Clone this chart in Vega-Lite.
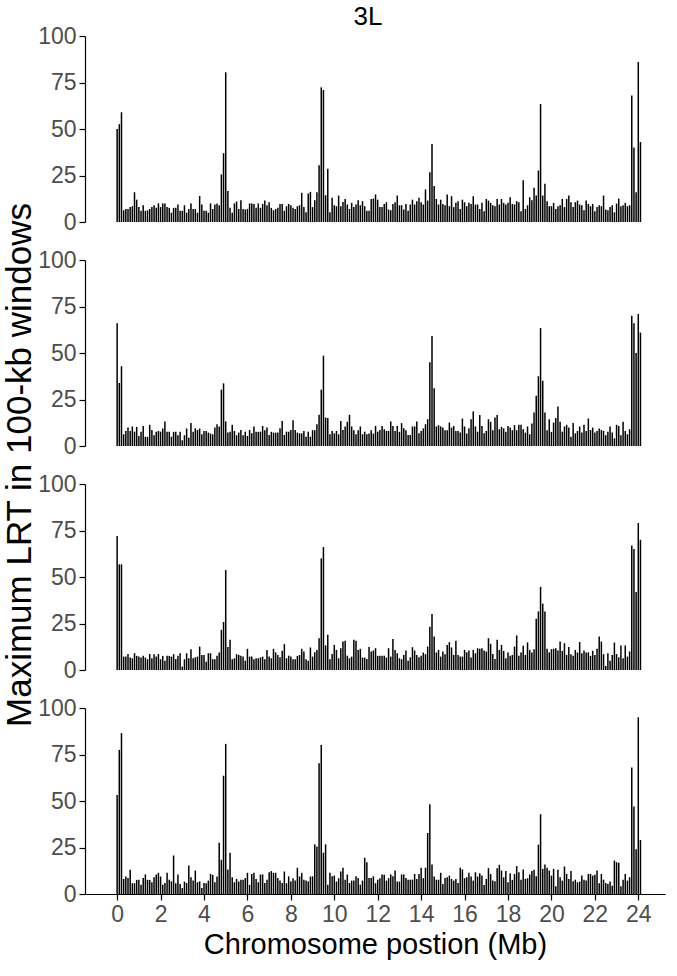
{"$schema":"https://vega.github.io/schema/vega-lite/v6.json","padding":{"left":2,"top":4,"right":2,"bottom":2},"background":"white","title":{"text":"3L","fontSize":26,"font":"Liberation Sans","fontWeight":"normal","color":"black","anchor":"middle","offset":-5,"dx":34},
"data":{"values":[
{"p":1,"x":0.0,"y":50},{"p":1,"x":0.1,"y":52.6},{"p":1,"x":0.2,"y":59},{"p":1,"x":0.3,"y":6.3},{"p":1,"x":0.4,"y":7},{"p":1,"x":0.5,"y":7},{"p":1,"x":0.6,"y":8},{"p":1,"x":0.7,"y":8.5},{"p":1,"x":0.8,"y":16},{"p":1,"x":0.9,"y":12},
{"p":1,"x":1.0,"y":8},{"p":1,"x":1.1,"y":6},{"p":1,"x":1.2,"y":9},{"p":1,"x":1.3,"y":6},{"p":1,"x":1.4,"y":6.3},{"p":1,"x":1.5,"y":7},{"p":1,"x":1.6,"y":8},{"p":1,"x":1.7,"y":9},{"p":1,"x":1.8,"y":7.6},{"p":1,"x":1.9,"y":10},
{"p":1,"x":2.0,"y":8},{"p":1,"x":2.1,"y":10},{"p":1,"x":2.2,"y":10},{"p":1,"x":2.3,"y":8},{"p":1,"x":2.4,"y":7.6},{"p":1,"x":2.5,"y":5},{"p":1,"x":2.6,"y":7.6},{"p":1,"x":2.7,"y":7.6},{"p":1,"x":2.8,"y":9.4},{"p":1,"x":2.9,"y":6},
{"p":1,"x":3.0,"y":6},{"p":1,"x":3.1,"y":9},{"p":1,"x":3.2,"y":5},{"p":1,"x":3.3,"y":7},{"p":1,"x":3.4,"y":10},{"p":1,"x":3.5,"y":7},{"p":1,"x":3.6,"y":7},{"p":1,"x":3.7,"y":5},{"p":1,"x":3.8,"y":14},{"p":1,"x":3.9,"y":9.4},
{"p":1,"x":4.0,"y":6},{"p":1,"x":4.1,"y":6},{"p":1,"x":4.2,"y":5},{"p":1,"x":4.3,"y":10},{"p":1,"x":4.4,"y":7},{"p":1,"x":4.5,"y":9.4},{"p":1,"x":4.6,"y":10},{"p":1,"x":4.7,"y":9},{"p":1,"x":4.8,"y":25.6},{"p":1,"x":4.9,"y":37},
{"p":1,"x":5.0,"y":80.5},{"p":1,"x":5.1,"y":16.6},{"p":1,"x":5.2,"y":7.6},{"p":1,"x":5.3,"y":5},{"p":1,"x":5.4,"y":10},{"p":1,"x":5.5,"y":11},{"p":1,"x":5.6,"y":7},{"p":1,"x":5.7,"y":11.7},{"p":1,"x":5.8,"y":7},{"p":1,"x":5.9,"y":6.7},
{"p":1,"x":6.0,"y":7},{"p":1,"x":6.1,"y":10},{"p":1,"x":6.2,"y":10},{"p":1,"x":6.3,"y":9.7},{"p":1,"x":6.4,"y":7.6},{"p":1,"x":6.5,"y":10},{"p":1,"x":6.6,"y":7.6},{"p":1,"x":6.7,"y":9.7},{"p":1,"x":6.8,"y":11.5},{"p":1,"x":6.9,"y":9},
{"p":1,"x":7.0,"y":10.6},{"p":1,"x":7.1,"y":7.6},{"p":1,"x":7.2,"y":6.3},{"p":1,"x":7.3,"y":7},{"p":1,"x":7.4,"y":7.6},{"p":1,"x":7.5,"y":9.7},{"p":1,"x":7.6,"y":9.7},{"p":1,"x":7.7,"y":6},{"p":1,"x":7.8,"y":8.5},{"p":1,"x":7.9,"y":9.7},
{"p":1,"x":8.0,"y":9},{"p":1,"x":8.1,"y":7.6},{"p":1,"x":8.2,"y":7},{"p":1,"x":8.3,"y":8.5},{"p":1,"x":8.4,"y":9},{"p":1,"x":8.5,"y":15.7},{"p":1,"x":8.6,"y":8},{"p":1,"x":8.7,"y":5.2},{"p":1,"x":8.8,"y":15.3},{"p":1,"x":8.9,"y":16.2},
{"p":1,"x":9.0,"y":8},{"p":1,"x":9.1,"y":11.7},{"p":1,"x":9.2,"y":16},{"p":1,"x":9.3,"y":30.5},{"p":1,"x":9.4,"y":72.4},{"p":1,"x":9.5,"y":71},{"p":1,"x":9.6,"y":14.4},{"p":1,"x":9.7,"y":28.6},{"p":1,"x":9.8,"y":5.2},{"p":1,"x":9.9,"y":13},
{"p":1,"x":10.0,"y":9},{"p":1,"x":10.1,"y":8.5},{"p":1,"x":10.2,"y":14.2},{"p":1,"x":10.3,"y":8.5},{"p":1,"x":10.4,"y":10.8},{"p":1,"x":10.5,"y":12.4},{"p":1,"x":10.6,"y":9.4},{"p":1,"x":10.7,"y":7},{"p":1,"x":10.8,"y":10.3},{"p":1,"x":10.9,"y":8},
{"p":1,"x":11.0,"y":9.4},{"p":1,"x":11.1,"y":11.7},{"p":1,"x":11.2,"y":9},{"p":1,"x":11.3,"y":11.2},{"p":1,"x":11.4,"y":8.5},{"p":1,"x":11.5,"y":6.1},{"p":1,"x":11.6,"y":6.1},{"p":1,"x":11.7,"y":12.4},{"p":1,"x":11.8,"y":12.6},{"p":1,"x":11.9,"y":14.8},
{"p":1,"x":12.0,"y":12},{"p":1,"x":12.1,"y":8},{"p":1,"x":12.2,"y":8},{"p":1,"x":12.3,"y":9.7},{"p":1,"x":12.4,"y":10.6},{"p":1,"x":12.5,"y":6.7},{"p":1,"x":12.6,"y":6.3},{"p":1,"x":12.7,"y":9.7},{"p":1,"x":12.8,"y":10.6},{"p":1,"x":12.9,"y":14.2},
{"p":1,"x":13.0,"y":9},{"p":1,"x":13.1,"y":9},{"p":1,"x":13.2,"y":6.7},{"p":1,"x":13.3,"y":9.7},{"p":1,"x":13.4,"y":6.1},{"p":1,"x":13.5,"y":9.4},{"p":1,"x":13.6,"y":12},{"p":1,"x":13.7,"y":9.4},{"p":1,"x":13.8,"y":11.2},{"p":1,"x":13.9,"y":13},
{"p":1,"x":14.0,"y":10.6},{"p":1,"x":14.1,"y":9.4},{"p":1,"x":14.2,"y":17.5},{"p":1,"x":14.3,"y":11.5},{"p":1,"x":14.4,"y":26.8},{"p":1,"x":14.5,"y":42},{"p":1,"x":14.6,"y":19.3},{"p":1,"x":14.7,"y":12.4},{"p":1,"x":14.8,"y":9.4},{"p":1,"x":14.9,"y":12},
{"p":1,"x":15.0,"y":9.7},{"p":1,"x":15.1,"y":9},{"p":1,"x":15.2,"y":14.8},{"p":1,"x":15.3,"y":8.5},{"p":1,"x":15.4,"y":13.9},{"p":1,"x":15.5,"y":8},{"p":1,"x":15.6,"y":10.3},{"p":1,"x":15.7,"y":11.2},{"p":1,"x":15.8,"y":7},{"p":1,"x":15.9,"y":12},
{"p":1,"x":16.0,"y":10.6},{"p":1,"x":16.1,"y":8.5},{"p":1,"x":16.2,"y":10.3},{"p":1,"x":16.3,"y":9.7},{"p":1,"x":16.4,"y":13.9},{"p":1,"x":16.5,"y":9.4},{"p":1,"x":16.6,"y":9.4},{"p":1,"x":16.7,"y":7},{"p":1,"x":16.8,"y":10.3},{"p":1,"x":16.9,"y":5.8},
{"p":1,"x":17.0,"y":12.4},{"p":1,"x":17.1,"y":11.5},{"p":1,"x":17.2,"y":10.3},{"p":1,"x":17.3,"y":9},{"p":1,"x":17.4,"y":8.5},{"p":1,"x":17.5,"y":12.4},{"p":1,"x":17.6,"y":9.4},{"p":1,"x":17.7,"y":12.4},{"p":1,"x":17.8,"y":10.3},{"p":1,"x":17.9,"y":9.4},
{"p":1,"x":18.0,"y":10.3},{"p":1,"x":18.1,"y":13.3},{"p":1,"x":18.2,"y":9.7},{"p":1,"x":18.3,"y":9.4},{"p":1,"x":18.4,"y":11.2},{"p":1,"x":18.5,"y":10.6},{"p":1,"x":18.6,"y":5.8},{"p":1,"x":18.7,"y":22.5},{"p":1,"x":18.8,"y":7},{"p":1,"x":18.9,"y":9},
{"p":1,"x":19.0,"y":13.3},{"p":1,"x":19.1,"y":11.7},{"p":1,"x":19.2,"y":18.4},{"p":1,"x":19.3,"y":14.2},{"p":1,"x":19.4,"y":27.7},{"p":1,"x":19.5,"y":63.4},{"p":1,"x":19.6,"y":14.2},{"p":1,"x":19.7,"y":20.5},{"p":1,"x":19.8,"y":11.2},{"p":1,"x":19.9,"y":8.5},
{"p":1,"x":20.0,"y":8.5},{"p":1,"x":20.1,"y":10.3},{"p":1,"x":20.2,"y":7},{"p":1,"x":20.3,"y":8.5},{"p":1,"x":20.4,"y":9},{"p":1,"x":20.5,"y":12.4},{"p":1,"x":20.6,"y":8},{"p":1,"x":20.7,"y":12.4},{"p":1,"x":20.8,"y":14.2},{"p":1,"x":20.9,"y":10.6},
{"p":1,"x":21.0,"y":8},{"p":1,"x":21.1,"y":10.6},{"p":1,"x":21.2,"y":11.5},{"p":1,"x":21.3,"y":9.4},{"p":1,"x":21.4,"y":9},{"p":1,"x":21.5,"y":6.3},{"p":1,"x":21.6,"y":11.5},{"p":1,"x":21.7,"y":9.7},{"p":1,"x":21.8,"y":8.5},{"p":1,"x":21.9,"y":9.7},
{"p":1,"x":22.0,"y":5.8},{"p":1,"x":22.1,"y":8},{"p":1,"x":22.2,"y":9},{"p":1,"x":22.3,"y":8.5},{"p":1,"x":22.4,"y":14.2},{"p":1,"x":22.5,"y":6.7},{"p":1,"x":22.6,"y":6.3},{"p":1,"x":22.7,"y":8.1},{"p":1,"x":22.8,"y":9},{"p":1,"x":22.9,"y":5.2},
{"p":1,"x":23.0,"y":9.9},{"p":1,"x":23.1,"y":12.6},{"p":1,"x":23.2,"y":8.5},{"p":1,"x":23.3,"y":9},{"p":1,"x":23.4,"y":10.3},{"p":1,"x":23.5,"y":8.5},{"p":1,"x":23.6,"y":9},{"p":1,"x":23.7,"y":68},{"p":1,"x":23.8,"y":40},{"p":1,"x":23.9,"y":16},
{"p":1,"x":24.0,"y":86},{"p":1,"x":24.1,"y":43},
{"p":2,"x":0.0,"y":66},{"p":2,"x":0.1,"y":33.9},{"p":2,"x":0.2,"y":42.9},{"p":2,"x":0.3,"y":6.3},{"p":2,"x":0.4,"y":8.1},{"p":2,"x":0.5,"y":9.9},{"p":2,"x":0.6,"y":8.1},{"p":2,"x":0.7,"y":10.5},{"p":2,"x":0.8,"y":7.7},{"p":2,"x":0.9,"y":10.3},
{"p":2,"x":1.0,"y":5.4},{"p":2,"x":1.1,"y":7.7},{"p":2,"x":1.2,"y":10.8},{"p":2,"x":1.3,"y":5},{"p":2,"x":1.4,"y":4.9},{"p":2,"x":1.5,"y":11.4},{"p":2,"x":1.6,"y":8.6},{"p":2,"x":1.7,"y":5.8},{"p":2,"x":1.8,"y":7.7},{"p":2,"x":1.9,"y":8.1},
{"p":2,"x":2.0,"y":7.7},{"p":2,"x":2.1,"y":9.4},{"p":2,"x":2.2,"y":13.2},{"p":2,"x":2.3,"y":7.7},{"p":2,"x":2.4,"y":7.7},{"p":2,"x":2.5,"y":5},{"p":2,"x":2.6,"y":7.6},{"p":2,"x":2.7,"y":7.7},{"p":2,"x":2.8,"y":5.8},{"p":2,"x":2.9,"y":7.7},
{"p":2,"x":3.0,"y":3.1},{"p":2,"x":3.1,"y":5.8},{"p":2,"x":3.2,"y":9.4},{"p":2,"x":3.3,"y":4.5},{"p":2,"x":3.4,"y":12.3},{"p":2,"x":3.5,"y":7.7},{"p":2,"x":3.6,"y":9.5},{"p":2,"x":3.7,"y":8.6},{"p":2,"x":3.8,"y":9.4},{"p":2,"x":3.9,"y":6.3},
{"p":2,"x":4.0,"y":8.1},{"p":2,"x":4.1,"y":8.1},{"p":2,"x":4.2,"y":7.2},{"p":2,"x":4.3,"y":6.7},{"p":2,"x":4.4,"y":6.3},{"p":2,"x":4.5,"y":9.9},{"p":2,"x":4.6,"y":11.7},{"p":2,"x":4.7,"y":10.5},{"p":2,"x":4.8,"y":30.3},{"p":2,"x":4.9,"y":33.7},
{"p":2,"x":5.0,"y":13.2},{"p":2,"x":5.1,"y":7.2},{"p":2,"x":5.2,"y":7.7},{"p":2,"x":5.3,"y":11.4},{"p":2,"x":5.4,"y":8.1},{"p":2,"x":5.5,"y":5.8},{"p":2,"x":5.6,"y":7.2},{"p":2,"x":5.7,"y":8.6},{"p":2,"x":5.8,"y":5.8},{"p":2,"x":5.9,"y":7.7},
{"p":2,"x":6.0,"y":5.4},{"p":2,"x":6.1,"y":8.6},{"p":2,"x":6.2,"y":6.8},{"p":2,"x":6.3,"y":10.5},{"p":2,"x":6.4,"y":7.6},{"p":2,"x":6.5,"y":7.6},{"p":2,"x":6.6,"y":7.7},{"p":2,"x":6.7,"y":10.8},{"p":2,"x":6.8,"y":8.5},{"p":2,"x":6.9,"y":9.9},
{"p":2,"x":7.0,"y":5.9},{"p":2,"x":7.1,"y":7.6},{"p":2,"x":7.2,"y":7.2},{"p":2,"x":7.3,"y":7.2},{"p":2,"x":7.4,"y":7.2},{"p":2,"x":7.5,"y":9.5},{"p":2,"x":7.6,"y":13.5},{"p":2,"x":7.7,"y":5.9},{"p":2,"x":7.8,"y":7.7},{"p":2,"x":7.9,"y":7.7},
{"p":2,"x":8.0,"y":8.6},{"p":2,"x":8.1,"y":13.9},{"p":2,"x":8.2,"y":8.6},{"p":2,"x":8.3,"y":7.2},{"p":2,"x":8.4,"y":6.8},{"p":2,"x":8.5,"y":6.8},{"p":2,"x":8.6,"y":8.1},{"p":2,"x":8.7,"y":5},{"p":2,"x":8.8,"y":7.6},{"p":2,"x":8.9,"y":5},
{"p":2,"x":9.0,"y":8.5},{"p":2,"x":9.1,"y":8.5},{"p":2,"x":9.2,"y":11.7},{"p":2,"x":9.3,"y":16.8},{"p":2,"x":9.4,"y":30.3},{"p":2,"x":9.5,"y":48.6},{"p":2,"x":9.6,"y":15.3},{"p":2,"x":9.7,"y":15},{"p":2,"x":9.8,"y":6.3},{"p":2,"x":9.9,"y":8.1},
{"p":2,"x":10.0,"y":6.8},{"p":2,"x":10.1,"y":8.1},{"p":2,"x":10.2,"y":6.3},{"p":2,"x":10.3,"y":13.5},{"p":2,"x":10.4,"y":8.6},{"p":2,"x":10.5,"y":10.5},{"p":2,"x":10.6,"y":13},{"p":2,"x":10.7,"y":16.8},{"p":2,"x":10.8,"y":10.5},{"p":2,"x":10.9,"y":8.5},
{"p":2,"x":11.0,"y":6.3},{"p":2,"x":11.1,"y":8.5},{"p":2,"x":11.2,"y":10.5},{"p":2,"x":11.3,"y":6.3},{"p":2,"x":11.4,"y":7.7},{"p":2,"x":11.5,"y":6.3},{"p":2,"x":11.6,"y":6.7},{"p":2,"x":11.7,"y":8.5},{"p":2,"x":11.8,"y":6.7},{"p":2,"x":11.9,"y":10.8},
{"p":2,"x":12.0,"y":7.7},{"p":2,"x":12.1,"y":8.6},{"p":2,"x":12.2,"y":10.8},{"p":2,"x":12.3,"y":9},{"p":2,"x":12.4,"y":8.1},{"p":2,"x":12.5,"y":8.1},{"p":2,"x":12.6,"y":13.2},{"p":2,"x":12.7,"y":10.8},{"p":2,"x":12.8,"y":8.1},{"p":2,"x":12.9,"y":10.8},
{"p":2,"x":13.0,"y":7.6},{"p":2,"x":13.1,"y":12.3},{"p":2,"x":13.2,"y":9.5},{"p":2,"x":13.3,"y":8.5},{"p":2,"x":13.4,"y":5.9},{"p":2,"x":13.5,"y":5.9},{"p":2,"x":13.6,"y":10.5},{"p":2,"x":13.7,"y":10.5},{"p":2,"x":13.8,"y":13.2},{"p":2,"x":13.9,"y":6.8},
{"p":2,"x":14.0,"y":8.1},{"p":2,"x":14.1,"y":9.5},{"p":2,"x":14.2,"y":11.7},{"p":2,"x":14.3,"y":14.4},{"p":2,"x":14.4,"y":45},{"p":2,"x":14.5,"y":59.1},{"p":2,"x":14.6,"y":31},{"p":2,"x":14.7,"y":10.5},{"p":2,"x":14.8,"y":11.2},{"p":2,"x":14.9,"y":10.5},
{"p":2,"x":15.0,"y":9.9},{"p":2,"x":15.1,"y":8.5},{"p":2,"x":15.2,"y":8.5},{"p":2,"x":15.3,"y":12.6},{"p":2,"x":15.4,"y":9.9},{"p":2,"x":15.5,"y":10.8},{"p":2,"x":15.6,"y":8.1},{"p":2,"x":15.7,"y":8.1},{"p":2,"x":15.8,"y":7.2},{"p":2,"x":15.9,"y":14.8},
{"p":2,"x":16.0,"y":10.5},{"p":2,"x":16.1,"y":6.7},{"p":2,"x":16.2,"y":9.5},{"p":2,"x":16.3,"y":14.4},{"p":2,"x":16.4,"y":18.6},{"p":2,"x":16.5,"y":10.5},{"p":2,"x":16.6,"y":7.7},{"p":2,"x":16.7,"y":16.6},{"p":2,"x":16.8,"y":10.8},{"p":2,"x":16.9,"y":6.8},
{"p":2,"x":17.0,"y":8.1},{"p":2,"x":17.1,"y":14.4},{"p":2,"x":17.2,"y":13},{"p":2,"x":17.3,"y":8.5},{"p":2,"x":17.4,"y":15.3},{"p":2,"x":17.5,"y":16.6},{"p":2,"x":17.6,"y":9},{"p":2,"x":17.7,"y":10.3},{"p":2,"x":17.8,"y":9.5},{"p":2,"x":17.9,"y":7.6},
{"p":2,"x":18.0,"y":10.8},{"p":2,"x":18.1,"y":9.9},{"p":2,"x":18.2,"y":8.5},{"p":2,"x":18.3,"y":11.2},{"p":2,"x":18.4,"y":8.5},{"p":2,"x":18.5,"y":11.4},{"p":2,"x":18.6,"y":11.4},{"p":2,"x":18.7,"y":9},{"p":2,"x":18.8,"y":7.2},{"p":2,"x":18.9,"y":10.5},
{"p":2,"x":19.0,"y":6.3},{"p":2,"x":19.1,"y":12.1},{"p":2,"x":19.2,"y":18},{"p":2,"x":19.3,"y":27},{"p":2,"x":19.4,"y":37.5},{"p":2,"x":19.5,"y":63.4},{"p":2,"x":19.6,"y":35.1},{"p":2,"x":19.7,"y":18},{"p":2,"x":19.8,"y":8.5},{"p":2,"x":19.9,"y":14.4},
{"p":2,"x":20.0,"y":7.6},{"p":2,"x":20.1,"y":12.6},{"p":2,"x":20.2,"y":15},{"p":2,"x":20.3,"y":21.3},{"p":2,"x":20.4,"y":13},{"p":2,"x":20.5,"y":7.7},{"p":2,"x":20.6,"y":10.5},{"p":2,"x":20.7,"y":11.4},{"p":2,"x":20.8,"y":9.9},{"p":2,"x":20.9,"y":5},
{"p":2,"x":21.0,"y":12.3},{"p":2,"x":21.1,"y":6.8},{"p":2,"x":21.2,"y":8.1},{"p":2,"x":21.3,"y":10.5},{"p":2,"x":21.4,"y":7.2},{"p":2,"x":21.5,"y":11.4},{"p":2,"x":21.6,"y":8.1},{"p":2,"x":21.7,"y":14.8},{"p":2,"x":21.8,"y":8.6},{"p":2,"x":21.9,"y":9.9},
{"p":2,"x":22.0,"y":7.2},{"p":2,"x":22.1,"y":8.1},{"p":2,"x":22.2,"y":9.4},{"p":2,"x":22.3,"y":8.6},{"p":2,"x":22.4,"y":8.1},{"p":2,"x":22.5,"y":5.8},{"p":2,"x":22.6,"y":7.6},{"p":2,"x":22.7,"y":10.5},{"p":2,"x":22.8,"y":7.2},{"p":2,"x":22.9,"y":4.1},
{"p":2,"x":23.0,"y":11.4},{"p":2,"x":23.1,"y":10.8},{"p":2,"x":23.2,"y":5.8},{"p":2,"x":23.3,"y":13},{"p":2,"x":23.4,"y":8.1},{"p":2,"x":23.5,"y":6.3},{"p":2,"x":23.6,"y":9},{"p":2,"x":23.7,"y":70},{"p":2,"x":23.8,"y":66},{"p":2,"x":23.9,"y":50},
{"p":2,"x":24.0,"y":71},{"p":2,"x":24.1,"y":61},
{"p":3,"x":0.0,"y":72},{"p":3,"x":0.1,"y":56.8},{"p":3,"x":0.2,"y":56.8},{"p":3,"x":0.3,"y":7.2},{"p":3,"x":0.4,"y":7.2},{"p":3,"x":0.5,"y":8.6},{"p":3,"x":0.6,"y":6.7},{"p":3,"x":0.7,"y":6.3},{"p":3,"x":0.8,"y":9},{"p":3,"x":0.9,"y":7.6},
{"p":3,"x":1.0,"y":7.2},{"p":3,"x":1.1,"y":6.7},{"p":3,"x":1.2,"y":7.6},{"p":3,"x":1.3,"y":6.7},{"p":3,"x":1.4,"y":5.8},{"p":3,"x":1.5,"y":8.6},{"p":3,"x":1.6,"y":6.3},{"p":3,"x":1.7,"y":8.5},{"p":3,"x":1.8,"y":7.2},{"p":3,"x":1.9,"y":8.6},
{"p":3,"x":2.0,"y":5.8},{"p":3,"x":2.1,"y":7.6},{"p":3,"x":2.2,"y":5},{"p":3,"x":2.3,"y":7.6},{"p":3,"x":2.4,"y":7.6},{"p":3,"x":2.5,"y":7.2},{"p":3,"x":2.6,"y":8.5},{"p":3,"x":2.7,"y":5.9},{"p":3,"x":2.8,"y":7.6},{"p":3,"x":2.9,"y":9},
{"p":3,"x":3.0,"y":1.8},{"p":3,"x":3.1,"y":5.8},{"p":3,"x":3.2,"y":9},{"p":3,"x":3.3,"y":6.3},{"p":3,"x":3.4,"y":11.2},{"p":3,"x":3.5,"y":6.3},{"p":3,"x":3.6,"y":6.8},{"p":3,"x":3.7,"y":7.2},{"p":3,"x":3.8,"y":12.6},{"p":3,"x":3.9,"y":8.1},
{"p":3,"x":4.0,"y":8.1},{"p":3,"x":4.1,"y":4.5},{"p":3,"x":4.2,"y":9},{"p":3,"x":4.3,"y":9},{"p":3,"x":4.4,"y":5.8},{"p":3,"x":4.5,"y":5.8},{"p":3,"x":4.6,"y":7.7},{"p":3,"x":4.7,"y":9.4},{"p":3,"x":4.8,"y":21.6},{"p":3,"x":4.9,"y":25.8},
{"p":3,"x":5.0,"y":53.7},{"p":3,"x":5.1,"y":12.3},{"p":3,"x":5.2,"y":16.2},{"p":3,"x":5.3,"y":5.8},{"p":3,"x":5.4,"y":6.3},{"p":3,"x":5.5,"y":8.5},{"p":3,"x":5.6,"y":8.1},{"p":3,"x":5.7,"y":7.6},{"p":3,"x":5.8,"y":7.2},{"p":3,"x":5.9,"y":5},
{"p":3,"x":6.0,"y":11.4},{"p":3,"x":6.1,"y":7.2},{"p":3,"x":6.2,"y":7.2},{"p":3,"x":6.3,"y":5.8},{"p":3,"x":6.4,"y":6.3},{"p":3,"x":6.5,"y":6.3},{"p":3,"x":6.6,"y":6.8},{"p":3,"x":6.7,"y":7.2},{"p":3,"x":6.8,"y":5.8},{"p":3,"x":6.9,"y":10.8},
{"p":3,"x":7.0,"y":7.2},{"p":3,"x":7.1,"y":6.3},{"p":3,"x":7.2,"y":11.4},{"p":3,"x":7.3,"y":9.5},{"p":3,"x":7.4,"y":8.1},{"p":3,"x":7.5,"y":6.8},{"p":3,"x":7.6,"y":10.3},{"p":3,"x":7.7,"y":13.9},{"p":3,"x":7.8,"y":6.3},{"p":3,"x":7.9,"y":7.7},
{"p":3,"x":8.0,"y":7.2},{"p":3,"x":8.1,"y":5.8},{"p":3,"x":8.2,"y":5.8},{"p":3,"x":8.3,"y":7.6},{"p":3,"x":8.4,"y":8.1},{"p":3,"x":8.5,"y":11.4},{"p":3,"x":8.6,"y":9.9},{"p":3,"x":8.7,"y":5.8},{"p":3,"x":8.8,"y":5},{"p":3,"x":8.9,"y":12.1},
{"p":3,"x":9.0,"y":7.2},{"p":3,"x":9.1,"y":9.5},{"p":3,"x":9.2,"y":10.8},{"p":3,"x":9.3,"y":17.1},{"p":3,"x":9.4,"y":60},{"p":3,"x":9.5,"y":66.1},{"p":3,"x":9.6,"y":13.2},{"p":3,"x":9.7,"y":18.9},{"p":3,"x":9.8,"y":5.8},{"p":3,"x":9.9,"y":8.6},
{"p":3,"x":10.0,"y":13.5},{"p":3,"x":10.1,"y":10.8},{"p":3,"x":10.2,"y":6.3},{"p":3,"x":10.3,"y":11.7},{"p":3,"x":10.4,"y":15.3},{"p":3,"x":10.5,"y":15.7},{"p":3,"x":10.6,"y":7.7},{"p":3,"x":10.7,"y":6.3},{"p":3,"x":10.8,"y":7.2},{"p":3,"x":10.9,"y":16.2},
{"p":3,"x":11.0,"y":15.7},{"p":3,"x":11.1,"y":10.8},{"p":3,"x":11.2,"y":11.4},{"p":3,"x":11.3,"y":6.7},{"p":3,"x":11.4,"y":6.7},{"p":3,"x":11.5,"y":5.9},{"p":3,"x":11.6,"y":12.3},{"p":3,"x":11.7,"y":9.9},{"p":3,"x":11.8,"y":10.5},{"p":3,"x":11.9,"y":11.7},
{"p":3,"x":12.0,"y":7.6},{"p":3,"x":12.1,"y":7.6},{"p":3,"x":12.2,"y":7.7},{"p":3,"x":12.3,"y":7.6},{"p":3,"x":12.4,"y":6.7},{"p":3,"x":12.5,"y":11.7},{"p":3,"x":12.6,"y":7.2},{"p":3,"x":12.7,"y":16.6},{"p":3,"x":12.8,"y":10.8},{"p":3,"x":12.9,"y":9},
{"p":3,"x":13.0,"y":6.3},{"p":3,"x":13.1,"y":5.8},{"p":3,"x":13.2,"y":8.1},{"p":3,"x":13.3,"y":10.5},{"p":3,"x":13.4,"y":5},{"p":3,"x":13.5,"y":6.8},{"p":3,"x":13.6,"y":12.3},{"p":3,"x":13.7,"y":10.5},{"p":3,"x":13.8,"y":8.1},{"p":3,"x":13.9,"y":6.8},
{"p":3,"x":14.0,"y":7.6},{"p":3,"x":14.1,"y":9.4},{"p":3,"x":14.2,"y":8.5},{"p":3,"x":14.3,"y":12.6},{"p":3,"x":14.4,"y":23.2},{"p":3,"x":14.5,"y":30.1},{"p":3,"x":14.6,"y":18},{"p":3,"x":14.7,"y":9.4},{"p":3,"x":14.8,"y":10.8},{"p":3,"x":14.9,"y":7.2},
{"p":3,"x":15.0,"y":9.9},{"p":3,"x":15.1,"y":8.5},{"p":3,"x":15.2,"y":13.5},{"p":3,"x":15.3,"y":15},{"p":3,"x":15.4,"y":12.1},{"p":3,"x":15.5,"y":8.1},{"p":3,"x":15.6,"y":15.7},{"p":3,"x":15.7,"y":8.1},{"p":3,"x":15.8,"y":7.2},{"p":3,"x":15.9,"y":7.2},
{"p":3,"x":16.0,"y":10.8},{"p":3,"x":16.1,"y":9.5},{"p":3,"x":16.2,"y":10.5},{"p":3,"x":16.3,"y":6.7},{"p":3,"x":16.4,"y":10.8},{"p":3,"x":16.5,"y":9},{"p":3,"x":16.6,"y":11.7},{"p":3,"x":16.7,"y":11.4},{"p":3,"x":16.8,"y":11.7},{"p":3,"x":16.9,"y":10.5},
{"p":3,"x":17.0,"y":9.9},{"p":3,"x":17.1,"y":17.1},{"p":3,"x":17.2,"y":14.1},{"p":3,"x":17.3,"y":8.6},{"p":3,"x":17.4,"y":5.9},{"p":3,"x":17.5,"y":16.2},{"p":3,"x":17.6,"y":10.8},{"p":3,"x":17.7,"y":13.5},{"p":3,"x":17.8,"y":10.3},{"p":3,"x":17.9,"y":6.3},
{"p":3,"x":18.0,"y":9.4},{"p":3,"x":18.1,"y":7.6},{"p":3,"x":18.2,"y":8.1},{"p":3,"x":18.3,"y":12.6},{"p":3,"x":18.4,"y":18.6},{"p":3,"x":18.5,"y":7.7},{"p":3,"x":18.6,"y":9.4},{"p":3,"x":18.7,"y":13},{"p":3,"x":18.8,"y":8.1},{"p":3,"x":18.9,"y":14.8},
{"p":3,"x":19.0,"y":10.8},{"p":3,"x":19.1,"y":9.4},{"p":3,"x":19.2,"y":11.2},{"p":3,"x":19.3,"y":27.6},{"p":3,"x":19.4,"y":31.5},{"p":3,"x":19.5,"y":44.7},{"p":3,"x":19.6,"y":35.7},{"p":3,"x":19.7,"y":31.5},{"p":3,"x":19.8,"y":11.4},{"p":3,"x":19.9,"y":9.5},
{"p":3,"x":20.0,"y":11.2},{"p":3,"x":20.1,"y":11.4},{"p":3,"x":20.2,"y":11.7},{"p":3,"x":20.3,"y":10.5},{"p":3,"x":20.4,"y":15.3},{"p":3,"x":20.5,"y":10.3},{"p":3,"x":20.6,"y":14.4},{"p":3,"x":20.7,"y":8.1},{"p":3,"x":20.8,"y":12.3},{"p":3,"x":20.9,"y":8.5},
{"p":3,"x":21.0,"y":7.7},{"p":3,"x":21.1,"y":10.8},{"p":3,"x":21.2,"y":9.4},{"p":3,"x":21.3,"y":15},{"p":3,"x":21.4,"y":9},{"p":3,"x":21.5,"y":10.5},{"p":3,"x":21.6,"y":9.4},{"p":3,"x":21.7,"y":9.5},{"p":3,"x":21.8,"y":7.6},{"p":3,"x":21.9,"y":10.3},
{"p":3,"x":22.0,"y":8.1},{"p":3,"x":22.1,"y":11.4},{"p":3,"x":22.2,"y":18},{"p":3,"x":22.3,"y":15.3},{"p":3,"x":22.4,"y":8.5},{"p":3,"x":22.5,"y":2.2},{"p":3,"x":22.6,"y":9},{"p":3,"x":22.7,"y":5},{"p":3,"x":22.8,"y":8.1},{"p":3,"x":22.9,"y":14.8},
{"p":3,"x":23.0,"y":8.6},{"p":3,"x":23.1,"y":6.8},{"p":3,"x":23.2,"y":13.2},{"p":3,"x":23.3,"y":6.3},{"p":3,"x":23.4,"y":13.2},{"p":3,"x":23.5,"y":7.2},{"p":3,"x":23.6,"y":10},{"p":3,"x":23.7,"y":67},{"p":3,"x":23.8,"y":65},{"p":3,"x":23.9,"y":42},
{"p":3,"x":24.0,"y":79},{"p":3,"x":24.1,"y":70},
{"p":4,"x":0.0,"y":53.2},{"p":4,"x":0.1,"y":77.5},{"p":4,"x":0.2,"y":86.5},{"p":4,"x":0.3,"y":8.1},{"p":4,"x":0.4,"y":9.4},{"p":4,"x":0.5,"y":8.6},{"p":4,"x":0.6,"y":13},{"p":4,"x":0.7,"y":5.8},{"p":4,"x":0.8,"y":5.8},{"p":4,"x":0.9,"y":7.6},
{"p":4,"x":1.0,"y":7.6},{"p":4,"x":1.1,"y":5},{"p":4,"x":1.2,"y":8.6},{"p":4,"x":1.3,"y":10.5},{"p":4,"x":1.4,"y":7.6},{"p":4,"x":1.5,"y":7.6},{"p":4,"x":1.6,"y":6.3},{"p":4,"x":1.7,"y":9},{"p":4,"x":1.8,"y":10.5},{"p":4,"x":1.9,"y":11.4},
{"p":4,"x":2.0,"y":9.4},{"p":4,"x":2.1,"y":5},{"p":4,"x":2.2,"y":5.9},{"p":4,"x":2.3,"y":11.4},{"p":4,"x":2.4,"y":7.7},{"p":4,"x":2.5,"y":6.8},{"p":4,"x":2.6,"y":20.7},{"p":4,"x":2.7,"y":5.8},{"p":4,"x":2.8,"y":10.5},{"p":4,"x":2.9,"y":5.4},
{"p":4,"x":3.0,"y":3.2},{"p":4,"x":3.1,"y":6.7},{"p":4,"x":3.2,"y":5.9},{"p":4,"x":3.3,"y":15.3},{"p":4,"x":3.4,"y":9},{"p":4,"x":3.5,"y":7.2},{"p":4,"x":3.6,"y":12.6},{"p":4,"x":3.7,"y":6.3},{"p":4,"x":3.8,"y":6.8},{"p":4,"x":3.9,"y":3.2},
{"p":4,"x":4.0,"y":5.9},{"p":4,"x":4.1,"y":5.8},{"p":4,"x":4.2,"y":7.2},{"p":4,"x":4.3,"y":10.8},{"p":4,"x":4.4,"y":10.3},{"p":4,"x":4.5,"y":6.3},{"p":4,"x":4.6,"y":9.4},{"p":4,"x":4.7,"y":27.6},{"p":4,"x":4.8,"y":18.4},{"p":4,"x":4.9,"y":63.6},
{"p":4,"x":5.0,"y":80.7},{"p":4,"x":5.1,"y":13.2},{"p":4,"x":5.2,"y":22.2},{"p":4,"x":5.3,"y":9},{"p":4,"x":5.4,"y":6.3},{"p":4,"x":5.5,"y":8.1},{"p":4,"x":5.6,"y":6.7},{"p":4,"x":5.7,"y":7.7},{"p":4,"x":5.8,"y":7.7},{"p":4,"x":5.9,"y":8.6},
{"p":4,"x":6.0,"y":11.4},{"p":4,"x":6.1,"y":4.9},{"p":4,"x":6.2,"y":10.8},{"p":4,"x":6.3,"y":11.4},{"p":4,"x":6.4,"y":8.1},{"p":4,"x":6.5,"y":6.3},{"p":4,"x":6.6,"y":10.5},{"p":4,"x":6.7,"y":10.5},{"p":4,"x":6.8,"y":5.9},{"p":4,"x":6.9,"y":7.7},
{"p":4,"x":7.0,"y":11.7},{"p":4,"x":7.1,"y":12.3},{"p":4,"x":7.2,"y":11.4},{"p":4,"x":7.3,"y":11.4},{"p":4,"x":7.4,"y":8.6},{"p":4,"x":7.5,"y":7.2},{"p":4,"x":7.6,"y":5.9},{"p":4,"x":7.7,"y":12.1},{"p":4,"x":7.8,"y":5.8},{"p":4,"x":7.9,"y":9.5},
{"p":4,"x":8.0,"y":6.7},{"p":4,"x":8.1,"y":8.5},{"p":4,"x":8.2,"y":7.2},{"p":4,"x":8.3,"y":14.1},{"p":4,"x":8.4,"y":9.4},{"p":4,"x":8.5,"y":11.4},{"p":4,"x":8.6,"y":7.7},{"p":4,"x":8.7,"y":7.2},{"p":4,"x":8.8,"y":6.7},{"p":4,"x":8.9,"y":9.4},
{"p":4,"x":9.0,"y":9.5},{"p":4,"x":9.1,"y":26.7},{"p":4,"x":9.2,"y":25.6},{"p":4,"x":9.3,"y":70.3},{"p":4,"x":9.4,"y":80.2},{"p":4,"x":9.5,"y":22.2},{"p":4,"x":9.6,"y":26.7},{"p":4,"x":9.7,"y":5},{"p":4,"x":9.8,"y":11.4},{"p":4,"x":9.9,"y":9.5},
{"p":4,"x":10.0,"y":9.9},{"p":4,"x":10.1,"y":6.7},{"p":4,"x":10.2,"y":8.5},{"p":4,"x":10.3,"y":12.1},{"p":4,"x":10.4,"y":14.1},{"p":4,"x":10.5,"y":7.7},{"p":4,"x":10.6,"y":10.5},{"p":4,"x":10.7,"y":5.9},{"p":4,"x":10.8,"y":7.2},{"p":4,"x":10.9,"y":7.2},
{"p":4,"x":11.0,"y":9.5},{"p":4,"x":11.1,"y":8.6},{"p":4,"x":11.2,"y":5},{"p":4,"x":11.3,"y":7.2},{"p":4,"x":11.4,"y":19.5},{"p":4,"x":11.5,"y":17.1},{"p":4,"x":11.6,"y":8.6},{"p":4,"x":11.7,"y":8.6},{"p":4,"x":11.8,"y":9.5},{"p":4,"x":11.9,"y":5.8},
{"p":4,"x":12.0,"y":7.7},{"p":4,"x":12.1,"y":8.5},{"p":4,"x":12.2,"y":10.5},{"p":4,"x":12.3,"y":10.3},{"p":4,"x":12.4,"y":7.2},{"p":4,"x":12.5,"y":8.5},{"p":4,"x":12.6,"y":10.5},{"p":4,"x":12.7,"y":9.5},{"p":4,"x":12.8,"y":12.6},{"p":4,"x":12.9,"y":6.7},
{"p":4,"x":13.0,"y":6.7},{"p":4,"x":13.1,"y":10.5},{"p":4,"x":13.2,"y":10.5},{"p":4,"x":13.3,"y":8.6},{"p":4,"x":13.4,"y":7.7},{"p":4,"x":13.5,"y":7.7},{"p":4,"x":13.6,"y":7.7},{"p":4,"x":13.7,"y":10.8},{"p":4,"x":13.8,"y":8.1},{"p":4,"x":13.9,"y":10.8},
{"p":4,"x":14.0,"y":14.1},{"p":4,"x":14.1,"y":8.5},{"p":4,"x":14.2,"y":14.1},{"p":4,"x":14.3,"y":32.8},{"p":4,"x":14.4,"y":48.3},{"p":4,"x":14.5,"y":15.9},{"p":4,"x":14.6,"y":9.4},{"p":4,"x":14.7,"y":7.7},{"p":4,"x":14.8,"y":7.7},{"p":4,"x":14.9,"y":11.4},
{"p":4,"x":15.0,"y":5.4},{"p":4,"x":15.1,"y":8.6},{"p":4,"x":15.2,"y":9},{"p":4,"x":15.3,"y":9.9},{"p":4,"x":15.4,"y":8.1},{"p":4,"x":15.5,"y":7.2},{"p":4,"x":15.6,"y":8.1},{"p":4,"x":15.7,"y":5.9},{"p":4,"x":15.8,"y":14.1},{"p":4,"x":15.9,"y":13.2},
{"p":4,"x":16.0,"y":8.5},{"p":4,"x":16.1,"y":9},{"p":4,"x":16.2,"y":11.4},{"p":4,"x":16.3,"y":9.4},{"p":4,"x":16.4,"y":7.2},{"p":4,"x":16.5,"y":11.7},{"p":4,"x":16.6,"y":9.4},{"p":4,"x":16.7,"y":11.2},{"p":4,"x":16.8,"y":9.9},{"p":4,"x":16.9,"y":4.9},
{"p":4,"x":17.0,"y":8.1},{"p":4,"x":17.1,"y":13.9},{"p":4,"x":17.2,"y":10.8},{"p":4,"x":17.3,"y":7.2},{"p":4,"x":17.4,"y":6.8},{"p":4,"x":17.5,"y":13.9},{"p":4,"x":17.6,"y":15.7},{"p":4,"x":17.7,"y":12.6},{"p":4,"x":17.8,"y":9},{"p":4,"x":17.9,"y":12.3},
{"p":4,"x":18.0,"y":6.3},{"p":4,"x":18.1,"y":11.2},{"p":4,"x":18.2,"y":7.6},{"p":4,"x":18.3,"y":10.8},{"p":4,"x":18.4,"y":15},{"p":4,"x":18.5,"y":11.7},{"p":4,"x":18.6,"y":7.7},{"p":4,"x":18.7,"y":13.2},{"p":4,"x":18.8,"y":8.1},{"p":4,"x":18.9,"y":8.5},
{"p":4,"x":19.0,"y":10.5},{"p":4,"x":19.1,"y":12.3},{"p":4,"x":19.2,"y":13},{"p":4,"x":19.3,"y":9.5},{"p":4,"x":19.4,"y":26.5},{"p":4,"x":19.5,"y":42.9},{"p":4,"x":19.6,"y":13.5},{"p":4,"x":19.7,"y":15.9},{"p":4,"x":19.8,"y":14.1},{"p":4,"x":19.9,"y":12.6},
{"p":4,"x":20.0,"y":9.9},{"p":4,"x":20.1,"y":13.5},{"p":4,"x":20.2,"y":4.1},{"p":4,"x":20.3,"y":13},{"p":4,"x":20.4,"y":9},{"p":4,"x":20.5,"y":7.2},{"p":4,"x":20.6,"y":14.8},{"p":4,"x":20.7,"y":10.8},{"p":4,"x":20.8,"y":8.1},{"p":4,"x":20.9,"y":12.3},
{"p":4,"x":21.0,"y":6.8},{"p":4,"x":21.1,"y":7.7},{"p":4,"x":21.2,"y":6.3},{"p":4,"x":21.3,"y":6.7},{"p":4,"x":21.4,"y":9.9},{"p":4,"x":21.5,"y":7.6},{"p":4,"x":21.6,"y":7.2},{"p":4,"x":21.7,"y":10.8},{"p":4,"x":21.8,"y":10.8},{"p":4,"x":21.9,"y":9.9},
{"p":4,"x":22.0,"y":10.3},{"p":4,"x":22.1,"y":12.6},{"p":4,"x":22.2,"y":5.8},{"p":4,"x":22.3,"y":10.8},{"p":4,"x":22.4,"y":7.7},{"p":4,"x":22.5,"y":5.9},{"p":4,"x":22.6,"y":5.4},{"p":4,"x":22.7,"y":6.7},{"p":4,"x":22.8,"y":4.5},{"p":4,"x":22.9,"y":18},
{"p":4,"x":23.0,"y":17.1},{"p":4,"x":23.1,"y":16.8},{"p":4,"x":23.2,"y":4.1},{"p":4,"x":23.3,"y":7.7},{"p":4,"x":23.4,"y":10.8},{"p":4,"x":23.5,"y":7.2},{"p":4,"x":23.6,"y":9},{"p":4,"x":23.7,"y":68},{"p":4,"x":23.8,"y":47},{"p":4,"x":23.9,"y":24},
{"p":4,"x":24.0,"y":95},{"p":4,"x":24.1,"y":29}
]},
"facet":{"row":{"field":"p","type":"ordinal","header":{"labels":false,"title":"Maximum LRT in 100-kb windows\u00a0\u00a0","titleFont":"Liberation Sans","titleFontSize":35,"titleFontWeight":"normal","titleColor":"black","titleOrient":"left","titleAngle":-90,"titlePadding":-46}}},
"spacing":{"row":38},
"spec":{"width":580,"height":186,
"mark":{"type":"bar","color":"black","size":1.5},
"encoding":{
"x":{"field":"x","type":"quantitative","scale":{"domain":[-1.25,25.0],"nice":false,"zero":false},"axis":{"values":[0,2,4,6,8,10,12,14,16,18,20,22,24],"title":"Chromosome postion (Mb)","titlePadding":4,"titleFontSize":29}},
"y":{"field":"y","type":"quantitative","scale":{"domain":[0,100],"nice":false},"axis":{"values":[0,25,50,75,100],"title":null}}}},
"config":{"view":{"stroke":null},"axis":{"domainColor":"black","tickColor":"black","labelColor":"#4d4d4d","labelFont":"Liberation Sans","labelFontSize":23,"titleFont":"Liberation Sans","titleFontWeight":"normal","titleColor":"black","grid":false,"tickSize":6,"domainWidth":1.2,"tickWidth":1.2,"labelPadding":3}}}
